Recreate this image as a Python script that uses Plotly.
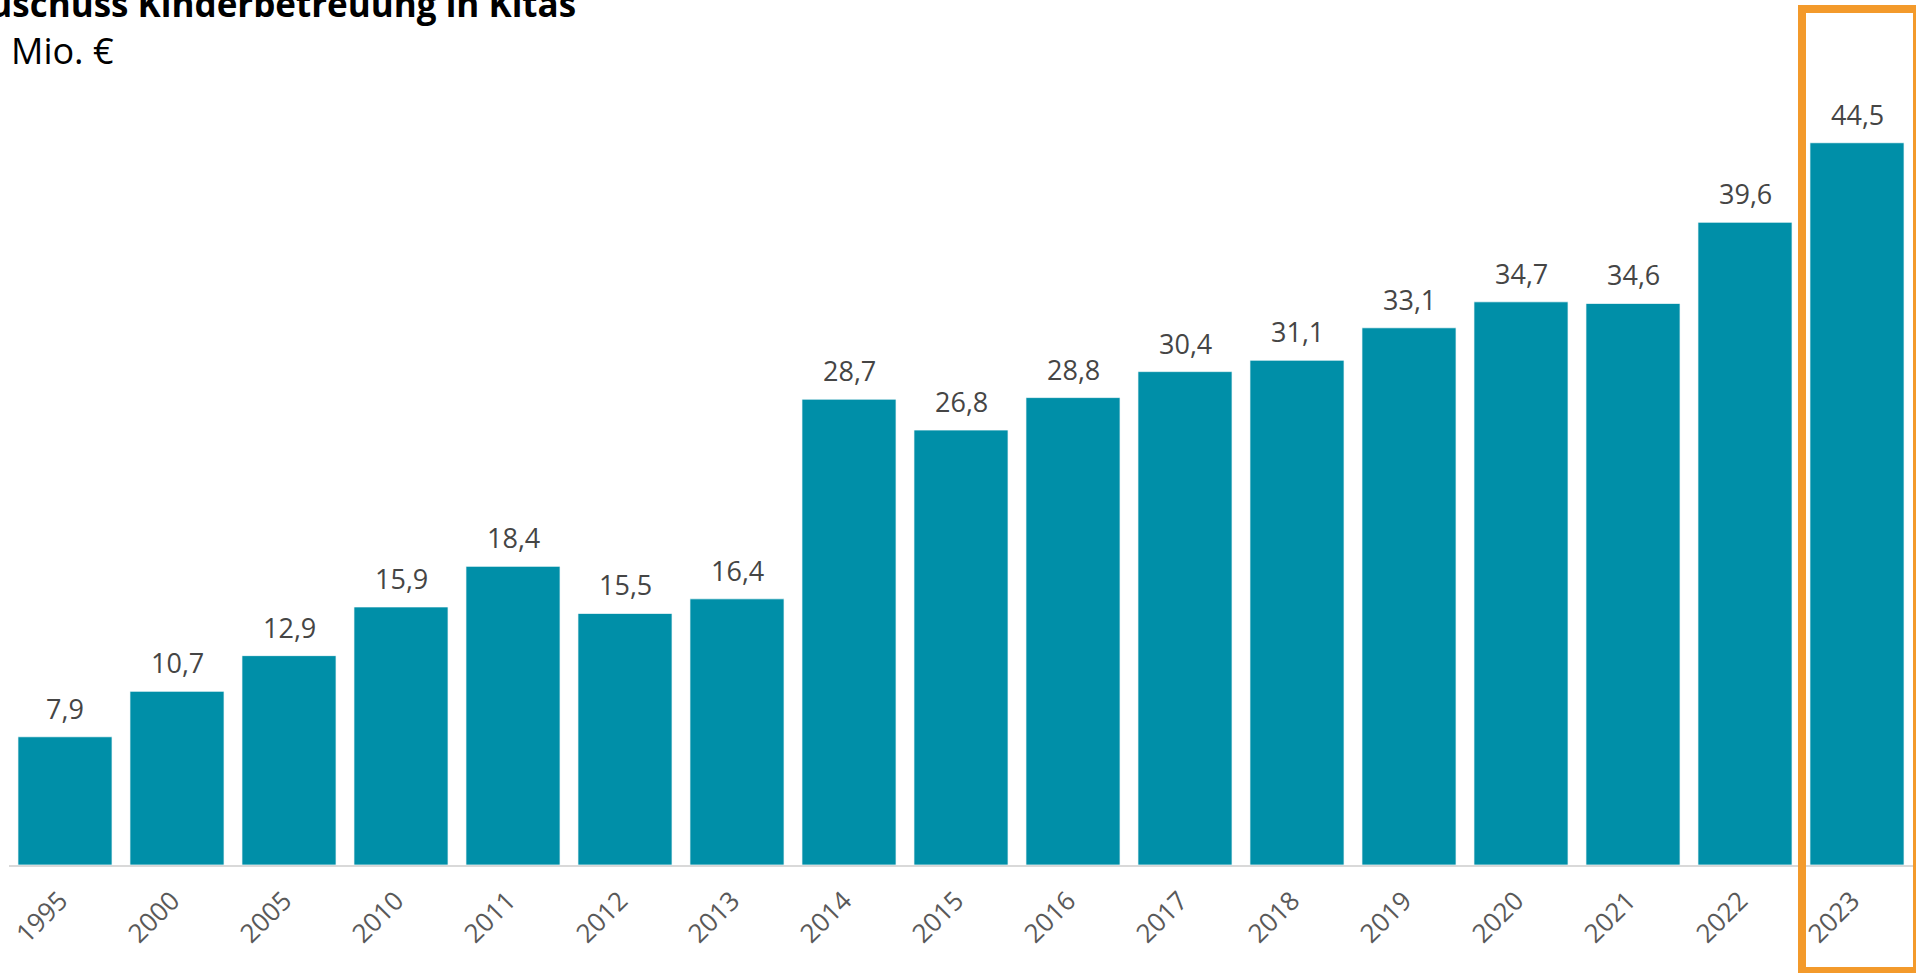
import plotly.graph_objects as go

years = ["1995", "2000", "2005", "2010", "2011", "2012", "2013", "2014", "2015",
         "2016", "2017", "2018", "2019", "2020", "2021", "2022", "2023"]
values = [7.9, 10.7, 12.9, 15.9, 18.4, 15.5, 16.4, 28.7, 26.8,
          28.8, 30.4, 31.1, 33.1, 34.7, 34.6, 39.6, 44.5]
labels = [f"{v:.1f}".replace(".", ",") for v in values]

title_text = "Zuschuss Kinderbetreuung in Kitas"
subtitle_text = "Mio. €"

BAR = "#008FA8"
W, H = 1916, 973
ML, MR, MT, MB = 9, 3, 0, 108
PW = W - ML - MR
PH = H - MT - MB

def px_x(p):
    return (p - ML) / PW

def px_y(p):
    return 1 - (p - MT) / PH

fig = go.Figure()
fig.add_trace(go.Bar(
    x=years, y=values,
    marker=dict(color=BAR, line=dict(color="rgba(255,255,255,0.7)", width=1)),
    hoverinfo="skip",
))

for i, (v, t) in enumerate(zip(values, labels)):
    fig.add_annotation(x=i, y=v, xref="x", yref="y", text=t, showarrow=False,
                       yanchor="bottom", yshift=8,
                       font=dict(family="Open Sans", size=27, color="#454545"))

fig.add_annotation(xref="paper", yref="paper", x=px_x(578), y=px_y(29.5),
                   xanchor="right", yanchor="bottom", showarrow=False,
                   text="<b>" + title_text + "</b>",
                   font=dict(family="Open Sans", size=35, color="#000000"))
fig.add_annotation(xref="paper", yref="paper", x=px_x(116), y=px_y(77),
                   xanchor="right", yanchor="bottom", showarrow=False,
                   text=subtitle_text,
                   font=dict(family="Open Sans", size=36, color="#000000"))

fig.add_shape(type="rect", xref="paper", yref="paper",
              x0=px_x(1802), x1=px_x(1917), y0=px_y(971), y1=px_y(9),
              line=dict(color="#F39A2B", width=8), fillcolor="rgba(0,0,0,0)",
              layer="above")

fig.update_layout(
    width=W, height=H,
    margin=dict(l=ML, r=MR, t=MT, b=MB, pad=0, autoexpand=False),
    paper_bgcolor="white", plot_bgcolor="white",
    bargap=0.16,
    showlegend=False,
    font=dict(family="Open Sans"),
    xaxis=dict(type="category", range=[-0.5, len(years) - 0.5], autorange=False,
               automargin=False, showgrid=False, showline=True, linecolor="#D9D9D9",
               linewidth=2, tickangle=-45, ticks="", ticklabelstandoff=8,
               ticklabelshift=-5,
               tickfont=dict(family="Open Sans", size=26, color="#595959"),
               zeroline=False),
    yaxis=dict(range=[0, PH / 16.23], autorange=False, visible=False,
               showgrid=False, zeroline=False, automargin=False),
)

fig.write_html("out.html", config={"displayModeBar": False},
               post_script="document.body.style.margin='0';document.body.style.overflow='hidden';")
